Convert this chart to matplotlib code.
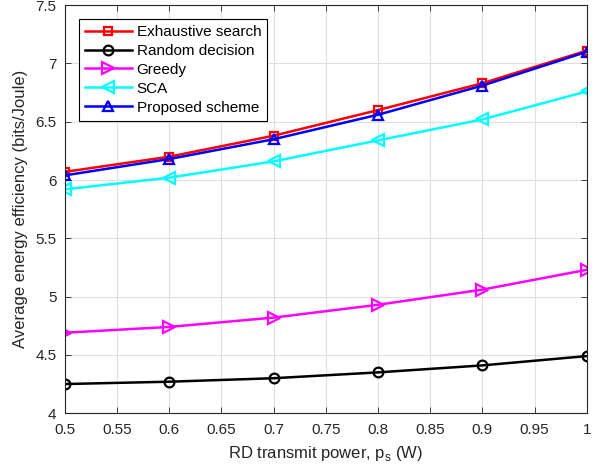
import matplotlib
matplotlib.use('Agg')
import matplotlib.pyplot as plt
import numpy as np

plt.rcParams['font.family'] = ['Liberation Sans', 'DejaVu Sans']

# RD transmit power (W)
power = [0.5, 0.6, 0.7, 0.8, 0.9, 1.0]

# average energy efficiency (bits/Joule)
exhaustive = [6.07, 6.20, 6.38, 6.60, 6.83, 7.11]
random_dec = [4.25, 4.27, 4.30, 4.35, 4.41, 4.49]
greedy = [4.69, 4.74, 4.82, 4.93, 5.06, 5.23]
sca = [5.92, 6.02, 6.16, 6.34, 6.52, 6.76]
proposed = [6.04, 6.18, 6.35, 6.56, 6.81, 7.10]

fig = plt.figure(figsize=(6, 4.69), dpi=100)
ax = fig.add_axes([0.108, 0.119, 0.870, 0.870])

lw = 1.8
ax.plot(power, exhaustive, color='red', marker='s', ms=6, mfc='none', mew=1.6, lw=lw, label='Exhaustive search')
ax.plot(power, random_dec, color='black', marker='o', ms=7, mfc='none', mew=1.6, lw=lw, label='Random decision')
ax.plot(power, greedy, color='magenta', marker='>', ms=8, mfc='none', mew=1.6, lw=lw, label='Greedy')
ax.plot(power, sca, color='cyan', marker='<', ms=8, mfc='none', mew=1.6, lw=lw, label='SCA')
ax.plot(power, proposed, color='blue', marker='^', ms=7, mfc='none', mew=1.6, lw=lw, label='Proposed scheme')

ax.set_xlim(0.5, 1.0)
ax.set_ylim(4, 7.5)
ax.set_xticks(np.arange(0.5, 1.001, 0.05))
ax.set_xticklabels(['0.5', '0.55', '0.6', '0.65', '0.7', '0.75', '0.8', '0.85', '0.9', '0.95', '1'])
ax.set_yticks(np.arange(4, 7.51, 0.5))
ax.set_yticklabels(['4', '4.5', '5', '5.5', '6', '6.5', '7', '7.5'])
ax.tick_params(direction='in', labelsize=11, top=True, right=True, length=4, width=0.6, colors='#262626')
ax.tick_params(axis='x', pad=7)
ax.tick_params(axis='y', pad=6)
ax.grid(True, color='#e0e0e0', lw=0.8)
ax.set_axisbelow(True)
for s in ax.spines.values():
    s.set_color('#262626')
    s.set_linewidth(0.8)

ax.set_xlabel('RD transmit power, p$_\\mathregular{s}$ (W)', fontsize=12, color='#262626', labelpad=5)
ax.set_ylabel('Average energy efficiency (bits/Joule)', fontsize=12, color='#262626', labelpad=5)

leg = ax.legend(loc='upper left', bbox_to_anchor=(0.0, 1.0), fontsize=11, fancybox=False,
                framealpha=1, edgecolor='black', borderpad=0.4, labelspacing=0.32,
                handlelength=3.1, handletextpad=0.3, borderaxespad=0.9)
leg.get_frame().set_linewidth(0.8)

fig.savefig('out.png', dpi=100)
